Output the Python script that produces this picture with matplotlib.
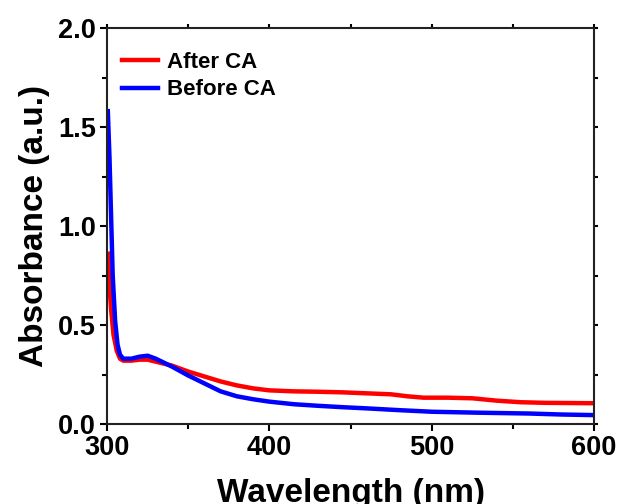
import numpy as np
import matplotlib.pyplot as plt
from matplotlib.ticker import MultipleLocator

# --- data ------------------------------------------------------------------
wl_after = [300.5, 301.5, 302.5, 304, 306, 308, 310, 315, 320, 325, 330, 335,
            340, 350, 360, 370, 380, 390, 400, 415, 430, 445, 460, 475, 485,
            495, 510, 525, 540, 555, 570, 585, 600]
abs_after = [0.86, 0.70, 0.58, 0.45, 0.37, 0.33, 0.32, 0.32, 0.325, 0.325,
             0.315, 0.305, 0.295, 0.265, 0.24, 0.215, 0.195, 0.18, 0.17,
             0.165, 0.163, 0.16, 0.155, 0.15, 0.14, 0.133, 0.133, 0.13,
             0.118, 0.11, 0.107, 0.106, 0.105]

wl_before = [300.5, 301.5, 302.5, 303.5, 305, 306.5, 308, 310, 315, 320, 325,
             330, 335, 340, 350, 360, 370, 380, 390, 400, 415, 430, 445, 460,
             480, 500, 530, 560, 580, 600]
abs_before = [1.58, 1.35, 1.05, 0.75, 0.52, 0.40, 0.35, 0.33, 0.33, 0.34,
              0.345, 0.33, 0.31, 0.29, 0.245, 0.205, 0.165, 0.14, 0.125,
              0.113, 0.10, 0.092, 0.085, 0.079, 0.07, 0.062, 0.057, 0.053,
              0.048, 0.045]

plt.rcParams['font.family'] = ['Liberation Sans', 'DejaVu Sans']
plt.rcParams['font.weight'] = 'bold'

fig = plt.figure(figsize=(6.19, 5.04), dpi=100)
ax = fig.add_axes([0.1729, 0.1587, 0.7867, 0.7857])

ax.plot(wl_after, abs_after, color='#ff0000', lw=3.2, label='After CA')
ax.plot(wl_before, abs_before, color='#0000ff', lw=3.2, label='Before CA')

ax.set_xlim(300, 600)
ax.set_ylim(0, 2.0)
ax.xaxis.set_major_locator(MultipleLocator(100))
ax.xaxis.set_minor_locator(MultipleLocator(50))
ax.yaxis.set_major_locator(MultipleLocator(0.5))
ax.yaxis.set_minor_locator(MultipleLocator(0.25))

for s in ax.spines.values():
    s.set_linewidth(1.5)
    s.set_color('#222222')

ax.tick_params(which='major', direction='out', length=5, width=1.5,
               labelsize=19.5, pad=3)
ax.tick_params(which='minor', direction='out', length=3.5, width=1.5)
ax.tick_params(which='both', top=True, right=True)
for t in ax.xaxis.get_major_ticks() + ax.xaxis.get_minor_ticks():
    t.tick2line.set_markersize(3)
for t in ax.yaxis.get_major_ticks() + ax.yaxis.get_minor_ticks():
    t.tick2line.set_markersize(3)
ax.yaxis.set_major_formatter(plt.FuncFormatter(lambda v, _: f"{v:.1f}"))

ax.set_xlabel('Wavelength (nm)', fontsize=24, fontweight='bold', labelpad=12)
ax.set_ylabel('Absorbance (a.u.)', fontsize=24, fontweight='bold', labelpad=6)

ax.legend(loc='upper left', bbox_to_anchor=(-0.005, 0.985), frameon=False,
          fontsize=16, handlelength=1.6, handletextpad=0.4,
          labelspacing=0.3, borderaxespad=0.4)

fig.savefig('out.png', dpi=100)
